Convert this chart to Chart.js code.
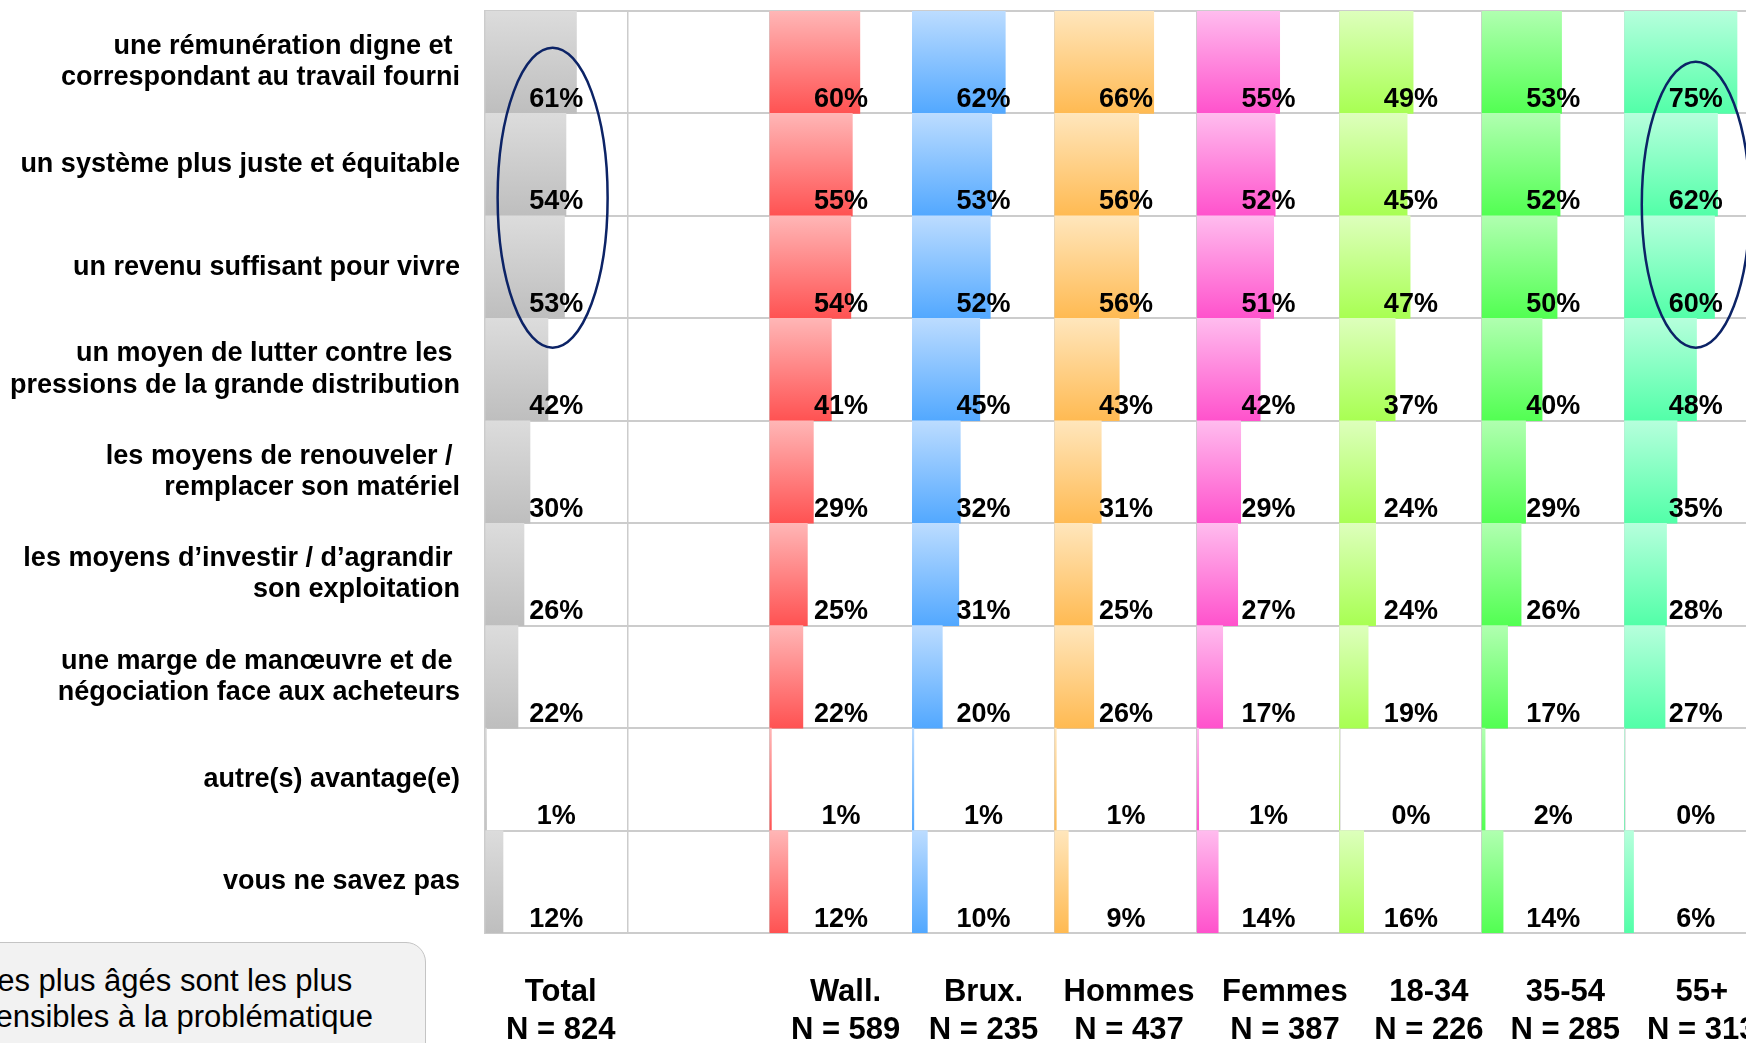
<!DOCTYPE html>
<html><head><meta charset="utf-8">
<script src="https://cdn.jsdelivr.net/npm/chart.js@4.4.1/dist/chart.umd.min.js"></script>
<style>
html,body{margin:0;padding:0;background:#fff;overflow:hidden;}
#wrap{position:relative;width:1746px;height:1043px;overflow:hidden;}
#c{position:absolute;left:0;top:0;}
#note{position:absolute;left:-30px;top:942px;width:456px;height:160px;background:#f2f2f2;border:1.5px solid #c4c4c4;border-radius:20px;box-sizing:border-box;padding:20px 0 0 9px;font:31px/36px 'Liberation Sans',Arial,sans-serif;color:#000;white-space:nowrap;}
</style></head><body>
<div id="wrap"><canvas id="c" width="1767" height="1060"></canvas>
<div id="note">Les plus âgés sont les plus<br>sensibles à la problématique</div></div>
<script>
// ---- data ----
const categories = [
  ['une rémunération digne et ', 'correspondant au travail fourni'],
  'un système plus juste et équitable',
  'un revenu suffisant pour vivre',
  ['un moyen de lutter contre les ', 'pressions de la grande distribution'],
  ['les moyens de renouveler / ', 'remplacer son matériel'],
  ['les moyens d\u2019investir / d\u2019agrandir ', 'son exploitation'],
  ['une marge de manœuvre et de ', 'négociation face aux acheteurs'],
  'autre(s) avantage(e)',
  'vous ne savez pas'
];
const groups = ['Total', 'Wall.', 'Brux.', 'Hommes', 'Femmes', '18-34', '35-54', '55+'];
const sampleSizes = [824, 589, 235, 437, 387, 226, 285, 313];
const totalValues   = [61, 54, 53, 42, 30, 26, 22, 1, 12];
const wallValues    = [60, 55, 54, 41, 29, 25, 22, 1, 12];
const bruxValues    = [62, 53, 52, 45, 32, 31, 20, 1, 10];
const hommesValues  = [66, 56, 56, 43, 31, 25, 26, 1, 9];
const femmesValues  = [55, 52, 51, 42, 29, 27, 17, 1, 14];
const age1834Values = [49, 45, 47, 37, 24, 24, 19, 0, 16];
const age3554Values = [53, 52, 50, 40, 29, 26, 17, 2, 14];
const age55Values   = [75, 62, 60, 48, 35, 28, 27, 0, 6];
const seriesValues = [totalValues, wallValues, bruxValues, hommesValues, femmesValues, age1834Values, age3554Values, age55Values];

// ---- layout / style ----
const CELL = 95;              // percent units per grid cell
const SLOTS = 9;              // grid columns (one blank after Total)
const columnSlot = [0, 2, 3, 4, 5, 6, 7, 8];
const headerNudge = [3, 3, 0, 2, 11, 12, 8, 4];
const barColors = [
  ['#dcdcdc', '#bebebe'],
  ['#ffb6b6', '#ff5252'],
  ['#bcdcff', '#52a8ff'],
  ['#ffe6bc', '#ffba52'],
  ['#ffbcee', '#ff52cc'],
  ['#ddffbc', '#a8ff52'],
  ['#b0ffb0', '#52ff52'],
  ['#b6ffdc', '#52ffa8']
];
const FONT = "'Liberation Sans', Arial, sans-serif";
const highlights = [
  { slot: 0, dx: -3.6, row: 1, dy: 33, rx: 55, ry: 150 },
  { slot: 8, dx: 0, row: 1, dy: 40, rx: 54, ry: 143 }
];

function barFill(top, bottom) {
  return (c) => {
    const chart = c.chart, area = chart.chartArea;
    if (!area || c.type !== 'data') return bottom;
    const ys = chart.scales.y;
    const half = area.height / categories.length / 2;
    const py = ys.getPixelForValue(c.dataIndex);
    const g = chart.ctx.createLinearGradient(0, py - half, 0, py + half);
    g.addColorStop(0, top);
    g.addColorStop(1, bottom);
    return g;
  };
}

const datasets = groups.map((g, i) => {
  const start = columnSlot[i] * CELL;
  return {
    label: g,
    slot: columnSlot[i],
    data: seriesValues[i].map(v => [start, start + v]),
    backgroundColor: barFill(barColors[i][0], barColors[i][1]),
    borderWidth: 0,
    grouped: false,
    barPercentage: 1,
    categoryPercentage: 1
  };
});

const cellLabels = {
  id: 'cellLabels',
  afterDatasetsDraw(chart) {
    const { ctx } = chart;
    const x = chart.scales.x;
    ctx.save();
    ctx.font = 'bold 27px ' + FONT;
    ctx.fillStyle = '#000';
    ctx.textAlign = 'center';
    ctx.textBaseline = 'alphabetic';
    chart.data.datasets.forEach((ds, di) => {
      const meta = chart.getDatasetMeta(di);
      const cx = x.getPixelForValue(ds.slot * CELL + CELL / 2);
      meta.data.forEach((bar, i) => {
        const p = bar.getProps(['y', 'height'], true);
        ctx.fillText(seriesValues[di][i] + '%', cx, p.y + p.height / 2 - 6.5);
      });
    });
    ctx.restore();
  }
};

const ellipses = {
  id: 'ellipses',
  afterDraw(chart) {
    const { ctx } = chart;
    const x = chart.scales.x, y = chart.scales.y;
    ctx.save();
    ctx.strokeStyle = '#0c2366';
    ctx.lineWidth = 2.5;
    highlights.forEach(h => {
      const cx = x.getPixelForValue(h.slot * CELL + CELL / 2) + h.dx;
      const cy = y.getPixelForValue(h.row) + h.dy;
      ctx.beginPath();
      ctx.ellipse(cx, cy, h.rx, h.ry, 0, 0, Math.PI * 2);
      ctx.stroke();
    });
    ctx.restore();
  }
};

new Chart(document.getElementById('c'), {
  type: 'bar',
  data: { labels: categories, datasets },
  plugins: [cellLabels, ellipses],
  options: {
    indexAxis: 'y',
    responsive: false,
    animation: false,
    devicePixelRatio: 1,
    layout: { padding: { top: 11, left: 0, right: 0, bottom: 0 } },
    plugins: { legend: { display: false }, tooltip: { enabled: false } },
    scales: {
      x: {
        type: 'linear', position: 'top', min: 0, max: SLOTS * CELL,
        ticks: { display: false, stepSize: CELL },
        grid: { color: '#cccccc', lineWidth: 1.5, drawTicks: false },
        border: { display: false },
        afterFit: (s) => { s.height = 0; s.paddingLeft = 0; s.paddingRight = 0; }
      },
      x2: {
        type: 'linear', position: 'bottom', min: 0, max: SLOTS * CELL,
        grid: { display: false, drawTicks: false },
        border: { display: false },
        afterBuildTicks: (s) => { s.ticks = columnSlot.map((sl, i) => ({ value: sl * CELL + CELL / 2 + headerNudge[i] })); },
        afterFit: (s) => { s.height = 127; s.paddingLeft = 0; s.paddingRight = 0; },
        ticks: {
          autoSkip: false, maxRotation: 0, minRotation: 0, padding: 40, color: '#000',
          font: { family: FONT, size: 31, weight: 'bold', lineHeight: 1.235 },
          callback: (v, i) => [groups[i], 'N = ' + sampleSizes[i]]
        }
      },
      y: {
        type: 'category', position: 'left', z: 1, offset: true,
        grid: { offset: true, color: '#cccccc', lineWidth: 2, drawTicks: false },
        border: { color: '#cccccc', width: 2 },
        afterFit: (s) => { s.width = 485; s.paddingTop = 0; s.paddingBottom = 0; },
        ticks: {
          autoSkip: false, padding: 25, labelOffset: 0, color: '#000',
          font: { family: FONT, size: 27, weight: 'bold', lineHeight: 1.15 }
        }
      }
    }
  }
});
</script>
</body></html>
